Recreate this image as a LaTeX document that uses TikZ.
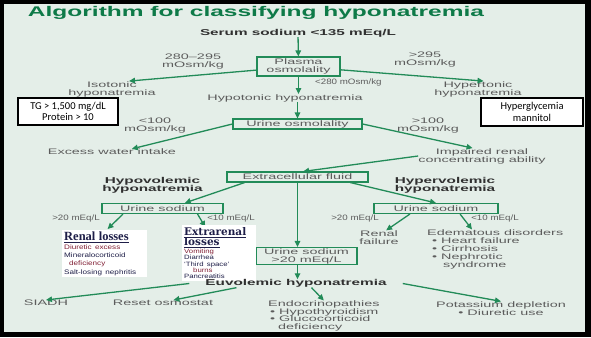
\documentclass[tikz,border=0pt]{standalone}
\usepackage{fontspec}
\setmainfont{Liberation Sans}
\newfontfamily\widesans[FakeStretch=1.8]{Liberation Sans}
\newfontfamily\titlesans[FakeStretch=1.75]{Liberation Sans}
\newfontfamily\narrowsans[FakeStretch=1.25]{Liberation Sans}
\newfontfamily\listsans[FakeStretch=1.25]{Liberation Sans}
\newfontfamily\notesans{Carlito}
\newfontfamily\headserif{Liberation Serif}
\newfontfamily\slabserif{DejaVu Serif}
\usepackage{xcolor}
\definecolor{mint}{RGB}{228,238,232}
\definecolor{leaf}{RGB}{34,139,88}
\definecolor{leafdark}{RGB}{14,122,72}
\definecolor{ink}{RGB}{92,92,92}
\definecolor{inkdark}{RGB}{48,48,48}
\definecolor{wine}{RGB}{128,30,52}
\definecolor{navy}{RGB}{30,30,72}
\usepackage{tikz}
\usetikzlibrary{arrows.meta,calc}

\begin{document}
\begin{tikzpicture}[x=1pt, y=-1pt,
  lbl/.style={inner sep=0pt, align=center, text=ink, font=\widesans\fontsize{8}{8}\selectfont},
  hdr/.style={lbl, text=inkdark, font=\widesans\bfseries\fontsize{8.5}{8}\selectfont},
  small/.style={lbl, font=\narrowsans\fontsize{7.8}{8}\selectfont},
  gbox/.style={lbl, draw=leaf, line width=1.1pt, inner sep=0.5pt, minimum height=10pt},
  note/.style={draw=black, line width=1.2pt, fill=white, align=center, inner sep=1pt,
    font=\notesans\fontsize{10.5}{11.5}\selectfont, minimum width=100pt, minimum height=27pt},
  losses/.style={fill=white, inner sep=2pt, anchor=north west, align=left},
  arr/.style={draw=leaf, line width=1.3pt, -{Triangle[length=6pt,width=5.5pt]}}]
\fill[black] (0,0) rectangle (591,337);
\fill[mint] (4,4) rectangle (585,332);
\useasboundingbox (0,0) rectangle (591,337);

\node[inner sep=0pt, text=leafdark, font=\titlesans\bfseries\fontsize{14}{14}\selectfont] (title) at (256,13) {Algorithm for classifying hyponatremia};
\node[hdr] (serum) at (298,33) {Serum sodium \textless135 mEq/L};
\node[gbox, minimum width=83pt, minimum height=19pt] (plasma) at (298.5,66.5) {Plasma\\osmolality};
\node[lbl] (isoosm) at (193,62) {280–295\\mOsm/kg};
\node[lbl] (hiosm) at (425,60) {\textgreater295\\mOsm/kg};
\node[lbl] (iso) at (112,89) {Isotonic\\hyponatremia};
\node[lbl] (hyper) at (478,89) {Hypertonic\\hyponatremia};
\node[small, anchor=west] (loosm) at (315,82) {\textless280 mOsm/kg};
\node[lbl] (hypo) at (285,98) {Hypotonic hyponatremia};
\node[note] (tg) at (68,111.5) {TG > 1,500 mg/dL\\Protein > 10};
\node[note, minimum width=102pt, minimum height=28pt] (hg) at (532,112) {Hyperglycemia\\mannitol};

\node[gbox, minimum width=129pt] (uosm) at (297.5,124) {Urine osmolality};
\node[lbl] (lo100) at (155,125.5) {\textless100\\mOsm/kg};
\node[lbl] (hi100) at (428,125.5) {\textgreater100\\mOsm/kg};
\node[lbl] (water) at (112,152) {Excess water intake};
\node[lbl] (impair) at (482,156) {Impaired renal\\concentrating ability};

\node[gbox, minimum width=141pt] (ecf) at (297.5,177) {Extracellular fluid};
\node[hdr] (hypovol) at (152.5,185.5) {Hypovolemic\\hyponatremia};
\node[hdr] (hypervol) at (445,185.5) {Hypervolemic\\hyponatremia};
\node[gbox, minimum width=121pt] (unaL) at (162.5,208.5) {Urine sodium};
\node[gbox, minimum width=124pt] (unaR) at (436,208.5) {Urine sodium};
\node[small] (hiL) at (76,218.5) {\textgreater20 mEq/L};
\node[small] (loL) at (231,218.5) {\textless10 mEq/L};
\node[small] (hiR) at (355,218.5) {\textgreater20 mEq/L};
\node[small] (loR) at (495,218.5) {\textless10 mEq/L};
\node[gbox, minimum width=101pt, minimum height=17pt] (unaC) at (306.5,256) {Urine sodium\\\textgreater20 mEq/L};
\node[lbl] (renalfail) at (379,237.5) {Renal\\failure};
\node[lbl, anchor=north west, align=left] (edema) at (427,229.5) {Edematous disorders\\\hspace*{5pt}\textbullet\ Heart failure\\\hspace*{5pt}\textbullet\ Cirrhosis\\\hspace*{5pt}\textbullet\ Nephrotic\\\hspace*{16pt}syndrome};

\draw[arr] (serum) -- (plasma);
\draw[arr] (plasma) -- (iso.25);
\draw[arr] (plasma) -- (hyper.55);
\draw[arr] (plasma) -- (plasma |- hypo.north);
\draw[arr] (hypo.south -| uosm) -- (uosm);
\draw[arr] (uosm.west) -- (water.9);
\draw[arr] (uosm.east) -- (impair.140);
\draw[arr] (impair.west) -- (ecf.45);
\draw[arr] (ecf.186) -- (unaL.14);
\draw[arr] (ecf.-6) -- (unaR.north);
\draw[arr] (ecf) -- (ecf |- unaC.north);
\draw[arr] (unaL.-172) -- ($(unaL.south west)!0.05!(unaL.south east)+(0,15)$);
\draw[arr] (unaL.-9) -- ($(unaL.south west)!0.85!(unaL.south east)+(0,13)$);
\draw[arr] (unaR.-168) -- (renalfail.45);
\draw[arr] (unaR.-13) -- ($(edema.north west)!0.33!(edema.north east)$);

\node[losses, text width=81pt] (renalloss) at (62,230) {%
  {\headserif\bfseries\fontsize{12.5}{13}\selectfont\color{navy}\underline{Renal losses}\par}
  {\listsans\fontsize{6.5}{8.3}\selectfont
  \textcolor{wine}{Diuretic excess}\\
  \textcolor{navy}{Mineralocorticoid}\\
  \hspace*{5pt}\textcolor{wine}{deficiency}\\
  \textcolor{navy}{Salt-losing nephritis}\par}};
\node[losses, text width=70pt] (extraloss) at (182,225) {%
  {\slabserif\bfseries\fontsize{10.5}{10.5}\selectfont\color{navy}\underline{Extrarenal}\\\underline{losses}\par}
  {\listsans\fontsize{6.2}{6.4}\selectfont
  \textcolor{wine}{Vomiting}\\
  \textcolor{navy}{Diarrhea}\\
  \textcolor{navy}{‘Third space’}\\
  \hspace*{9pt}\textcolor{wine}{burns}\\
  \textcolor{navy}{Pancreatitis}\par}};

\node[hdr, inner xsep=16pt] (euvol) at (296,283.5) {Euvolemic hyponatremia};
\node[lbl] (siadh) at (46,303) {SIADH};
\node[lbl] (reset) at (163,303) {Reset osmostat};
\node[lbl, anchor=north west, align=left, font=\widesans\fontsize{8}{7.5}\selectfont] (endo) at (268,300.5) {Endocrinopathies\\\hspace*{2pt}\textbullet\ Hypothyroidism\\\hspace*{2pt}\textbullet\ Glucocorticoid\\\hspace*{10pt}deficiency};
\node[lbl] (potas) at (501,308.5) {Potassium depletion\\\textbullet\ Diuretic use};

\draw[arr] (ecf |- unaC.south) -- (ecf |- euvol.north);
\draw[arr] (euvol.west) -- (siadh.north);
\draw[arr] (euvol.-176) -- (reset.16);
\draw[arr] (euvol.-15) -- (endo.north);
\draw[arr] (euvol.east) -- (potas.north);
\end{tikzpicture}
\end{document}
